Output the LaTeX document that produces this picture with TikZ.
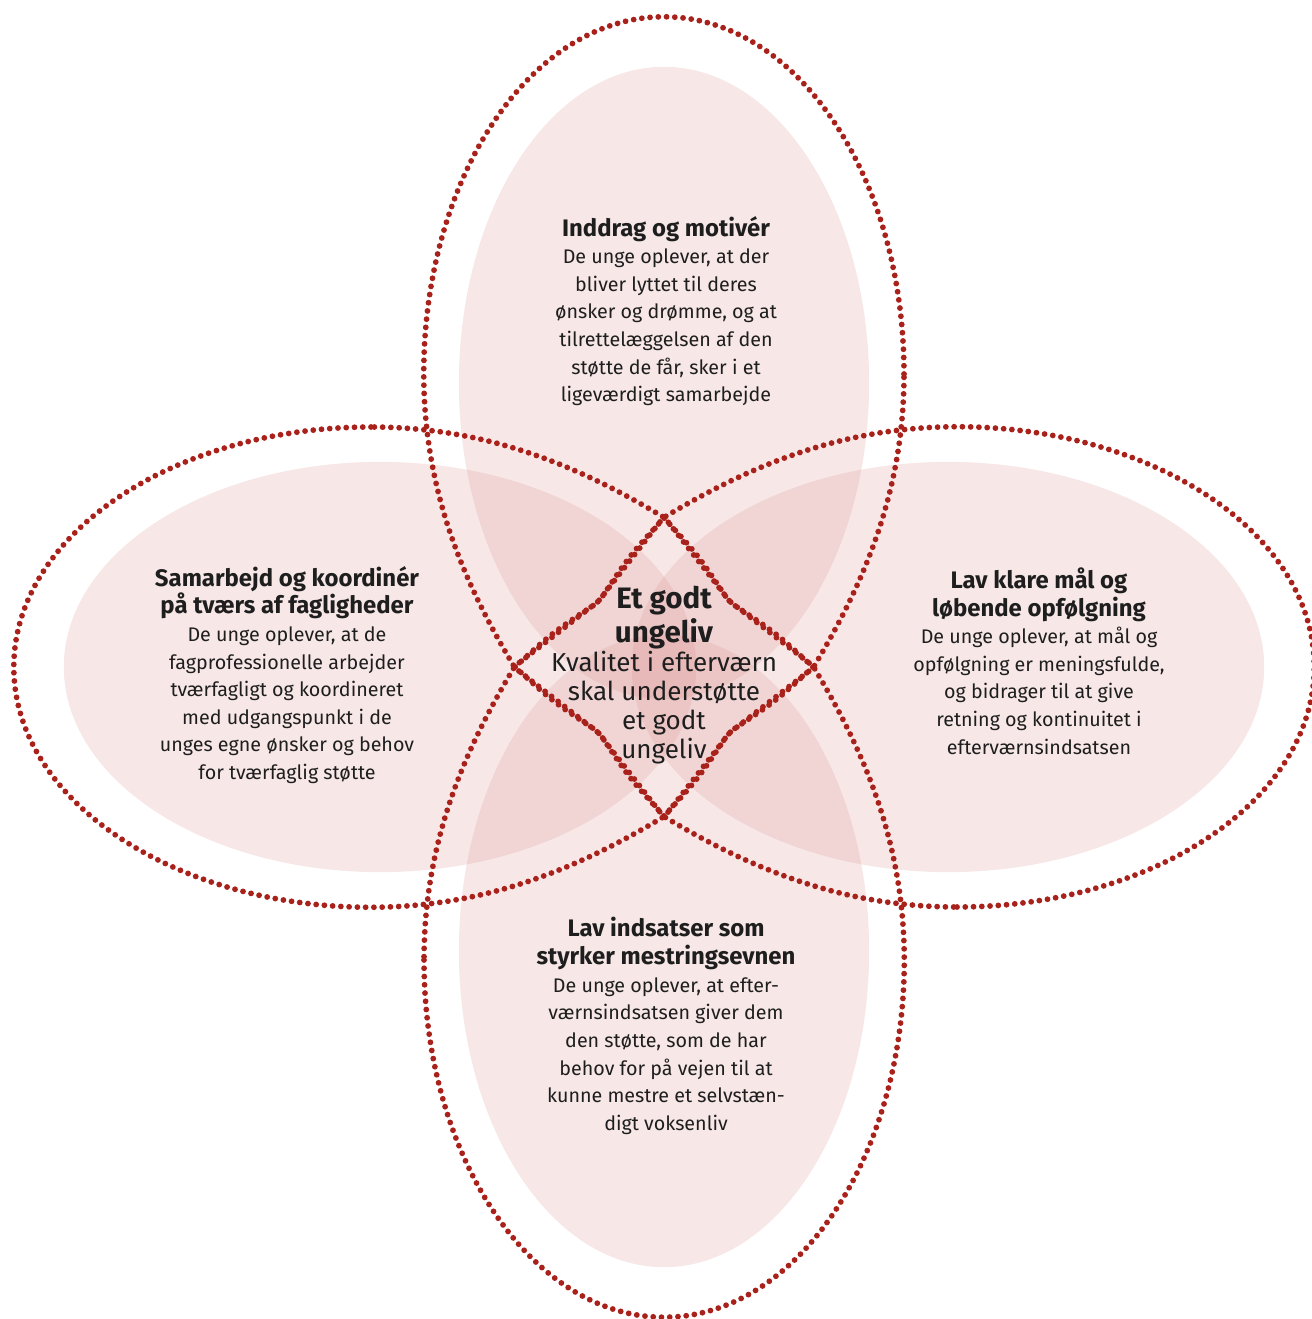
\documentclass[tikz,border=0pt]{standalone}
\usepackage{fontspec}
\setmainfont{Fira Sans}
\usepackage{tikz}
\definecolor{VennRed}{RGB}{168,33,26}
\definecolor{VennRose}{RGB}{217,141,141}
\definecolor{VennInk}{RGB}{30,30,30}
\newcommand{\petalhead}[1]{{\fontsize{6.8}{7.85}\selectfont\bfseries #1}}
\newcommand{\corehead}[1]{{\fontsize{8.4}{8.2}\selectfont\bfseries #1}}

\begin{document}
\begin{tikzpicture}[x=0.01cm, y=-0.01cm,
    petal/.style={fill=VennRose, fill opacity=0.21},
    ring/.style={draw=VennRed, line width=1.65pt, line cap=round, dash pattern=on 0pt off 2.35pt},
    body/.style={align=center, text=VennInk, inner sep=0pt, font=\fontsize{5.6}{7.85}\selectfont},
    core/.style={align=center, text=VennInk, inner sep=0pt, font=\fontsize{7.4}{8.2}\selectfont}]
	\useasboundingbox (0,0) rectangle (1311,1319);
	\coordinate (mid) at (664,667);
	% filled petals
	\foreach \ang in {0,90,180,270}
		\fill[petal, shift={(mid)}, rotate=\ang] (0,-284) ellipse [x radius=2.05cm, y radius=3.16cm];
	% dotted outlines
	\foreach \ang in {0,90,180,270}
		\draw[ring, shift={(mid)}, rotate=\ang] (240,-293)
			arc[start angle=0, end angle=180, x radius=2.4cm, y radius=3.57cm]
			.. controls (-240,-174) and (-199,-82) .. (-149,1)
			-- (-64,67) .. controls (-34,112) .. (0,149)
			.. controls (34,112) .. (64,67) -- (149,1)
			.. controls (199,-82) and (240,-174) .. (240,-293);
	% texts
	\node[body] (inddrag) at (666,311) {\petalhead{Inddrag og motivér}\\De unge oplever, at der\\bliver lyttet til deres\\ønsker og drømme, og at\\tilrettelæggelsen af den\\støtte de får, sker i et\\ligeværdigt samarbejde};
	\node[body] (samarbejd) at (287,675) {\petalhead{Samarbejd og koordinér}\\\petalhead{på tværs af fagligheder}\\De unge oplever, at de\\fagprofessionelle arbejder\\tværfagligt og koordineret\\med udgangspunkt i de\\unges egne ønsker og behov\\for tværfaglig støtte};
	\node[body] (maal) at (1039,661) {\petalhead{Lav klare mål og}\\\petalhead{løbende opfølgning}\\De unge oplever, at mål og\\opfølgning er meningsfulde,\\og bidrager til at give\\retning og kontinuitet i\\efterværnsindsatsen};
	\node[body] (indsats) at (666,1026) {\petalhead{Lav indsatser som}\\\petalhead{styrker mestringsevnen}\\De unge oplever, at efter-\\værnsindsatsen giver dem\\den støtte, som de har\\behov for på vejen til at\\kunne mestre et selvstæn-\\digt voksenliv};
	\node[core] (ungeliv) at (664,675) {\corehead{Et godt}\\\corehead{ungeliv}\\Kvalitet i efterværn\\skal understøtte\\et godt\\ungeliv};
\end{tikzpicture}
\end{document}
